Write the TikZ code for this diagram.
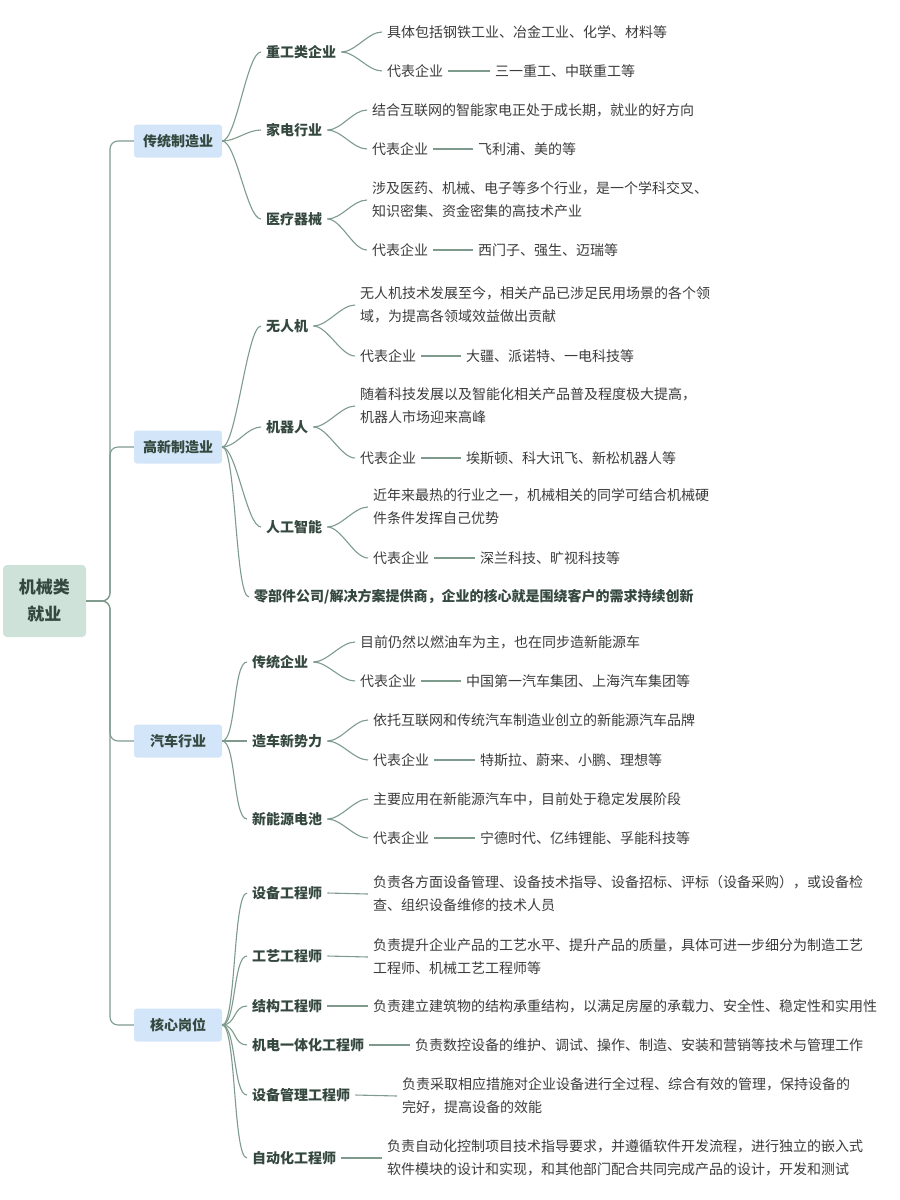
\documentclass[tikz,border=0pt]{standalone}
\usepackage{fontspec}
\setmainfont{Noto Sans CJK SC}
\begin{document}
\begin{tikzpicture}[x=1pt,y=-1pt,
  ln/.style={draw=lc,line width=1.1pt},
  txt/.style={anchor=west,inner xsep=5pt,inner ysep=1pt,text=tc,font=\fontsize{14}{23}\selectfont,align=left},
  lab/.style={anchor=west,inner xsep=5pt,inner ysep=1pt,text=bc,font=\fontsize{14}{23}\selectfont\bfseries},
  lone/.style={fill=bf,rounded corners=3pt,text=bc,font=\fontsize{14}{18}\selectfont\bfseries,minimum width=88pt,minimum height=33pt,inner sep=0pt},
  rootn/.style={fill=rf,rounded corners=4pt,text=bc,font=\fontsize{17}{27}\selectfont\bfseries,minimum width=83pt,minimum height=72pt,align=center,inner sep=0pt}]
\definecolor{lc}{HTML}{7E9B8E}
\definecolor{tc}{HTML}{3C3C3C}
\definecolor{bc}{HTML}{34483F}
\definecolor{bf}{HTML}{D3E5F8}
\definecolor{rf}{HTML}{CFE2DA}
\newcommand{\cvx}[2]{\draw[ln] (#1.east) .. controls +(14,0) and +(-14,0) .. (#2.west);}
\newcommand{\dash}[2]{\draw[ln] (#1.east) -- (#2.west);}
\fill[white] (0,0) rectangle (900,1200);
\useasboundingbox (0,0) rectangle (900,1200);

\node[rootn] (root) at (44.5,601) {机械类\\就业};
\node[lone] (a) at (178,141) {传统制造业};
\node[lone] (b) at (178,447) {高新制造业};
\node[lone] (c) at (178,741) {汽车行业};
\node[lone] (d) at (178,1025) {核心岗位};
\foreach \n in {a,b,c,d}{\draw[ln,rounded corners=8pt] (root.east) -- (110,601) |- (\n.west);}

% 传统制造业
\node[lab] (a1) at (261,52) {重工类企业};
\node[lab] (a2) at (261,130) {家电行业};
\node[lab] (a3) at (261,219) {医疗器械};
\foreach \n in {a1,a2,a3}{\cvx{a}{\n}}
\node[txt] (a1x) at (382,32) {具体包括钢铁工业、冶金工业、化学、材料等};
\node[txt] (a1y) at (382,71) {代表企业};
\node[txt] (a1z) at (490,71) {三一重工、中联重工等};
\cvx{a1}{a1x}\cvx{a1}{a1y}\dash{a1y}{a1z}
\node[txt] (a2x) at (367,110) {结合互联网的智能家电正处于成长期，就业的好方向};
\node[txt] (a2y) at (367,149) {代表企业};
\node[txt] (a2z) at (473,149) {飞利浦、美的等};
\cvx{a2}{a2x}\cvx{a2}{a2y}\dash{a2y}{a2z}
\node[txt] (a3x) at (367,200) {涉及医药、机械、电子等多个行业，是一个学科交叉、\\知识密集、资金密集的高技术产业};
\node[txt] (a3y) at (367,250) {代表企业};
\node[txt] (a3z) at (473,250) {西门子、强生、迈瑞等};
\cvx{a3}{a3x}\cvx{a3}{a3y}\dash{a3y}{a3z}

% 高新制造业
\node[lab] (b1) at (261,326) {无人机};
\node[lab] (b2) at (261,427) {机器人};
\node[lab] (b3) at (261,527) {人工智能};
\node[lab] (b4) at (249,597) {零部件公司/解决方案提供商，企业的核心就是围绕客户的需求持续创新};
\foreach \n in {b1,b2,b3,b4}{\cvx{b}{\n}}
\node[txt] (b1x) at (355,305) {无人机技术发展至今，相关产品已涉足民用场景的各个领\\域，为提高各领域效益做出贡献};
\node[txt] (b1y) at (355,356) {代表企业};
\node[txt] (b1z) at (461,356) {大疆、派诺特、一电科技等};
\cvx{b1}{b1x}\cvx{b1}{b1y}\dash{b1y}{b1z}
\node[txt] (b2x) at (355,406) {随着科技发展以及智能化相关产品普及程度极大提高，\\机器人市场迎来高峰};
\node[txt] (b2y) at (355,458) {代表企业};
\node[txt] (b2z) at (461,458) {埃斯顿、科大讯飞、新松机器人等};
\cvx{b2}{b2x}\cvx{b2}{b2y}\dash{b2y}{b2z}
\node[txt] (b3x) at (368,507) {近年来最热的行业之一，机械相关的同学可结合机械硬\\件条件发挥自己优势};
\node[txt] (b3y) at (368,558) {代表企业};
\node[txt] (b3z) at (475,558) {深兰科技、旷视科技等};
\cvx{b3}{b3x}\cvx{b3}{b3y}\dash{b3y}{b3z}

% 汽车行业
\node[lab] (c1) at (247,662) {传统企业};
\node[lab] (c2) at (247,741) {造车新势力};
\node[lab] (c3) at (247,819) {新能源电池};
\foreach \n in {c1,c2,c3}{\cvx{c}{\n}}
\node[txt] (c1x) at (355,642) {目前仍然以燃油车为主，也在同步造新能源车};
\node[txt] (c1y) at (355,681) {代表企业};
\node[txt] (c1z) at (461,681) {中国第一汽车集团、上海汽车集团等};
\cvx{c1}{c1x}\cvx{c1}{c1y}\dash{c1y}{c1z}
\node[txt] (c2x) at (368,720) {依托互联网和传统汽车制造业创立的新能源汽车品牌};
\node[txt] (c2y) at (368,760) {代表企业};
\node[txt] (c2z) at (475,760) {特斯拉、蔚来、小鹏、理想等};
\cvx{c2}{c2x}\cvx{c2}{c2y}\dash{c2y}{c2z}
\node[txt] (c3x) at (368,799) {主要应用在新能源汽车中，目前处于稳定发展阶段};
\node[txt] (c3y) at (368,838) {代表企业};
\node[txt] (c3z) at (475,838) {宁德时代、亿纬锂能、孚能科技等};
\cvx{c3}{c3x}\cvx{c3}{c3y}\dash{c3y}{c3z}

% 核心岗位
\node[lab] (d1) at (247,893) {设备工程师};
\node[lab] (d2) at (247,956) {工艺工程师};
\node[lab] (d3) at (247,1006) {结构工程师};
\node[lab] (d4) at (247,1045) {机电一体化工程师};
\node[lab] (d5) at (247,1095) {设备管理工程师};
\node[lab] (d6) at (247,1158) {自动化工程师};
\foreach \n in {d1,d2,d3,d4,d5,d6}{\cvx{d}{\n}}
\node[txt] (d1x) at (368,894) {负责各方面设备管理、设备技术指导、设备招标、评标（设备采购），或设备检\\查、组织设备维修的技术人员};
\node[txt] (d2x) at (368,957) {负责提升企业产品的工艺水平、提升产品的质量，具体可进一步细分为制造工艺\\工程师、机械工艺工程师等};
\node[txt] (d3x) at (368,1006) {负责建立建筑物的结构承重结构，以满足房屋的承载力、安全性、稳定性和实用性};
\node[txt] (d4x) at (410,1045) {负责数控设备的维护、调试、操作、制造、安装和营销等技术与管理工作};
\node[txt] (d5x) at (397,1096) {负责采取相应措施对企业设备进行全过程、综合有效的管理，保持设备的\\完好，提高设备的效能};
\node[txt] (d6x) at (382,1158) {负责自动化控制项目技术指导要求，并遵循软件开发流程，进行独立的嵌入式\\软件模块的设计和实现，和其他部门配合共同完成产品的设计，开发和测试};
\foreach \n in {1,...,6}{\dash{d\n}{d\n x}}
\end{tikzpicture}
\end{document}
